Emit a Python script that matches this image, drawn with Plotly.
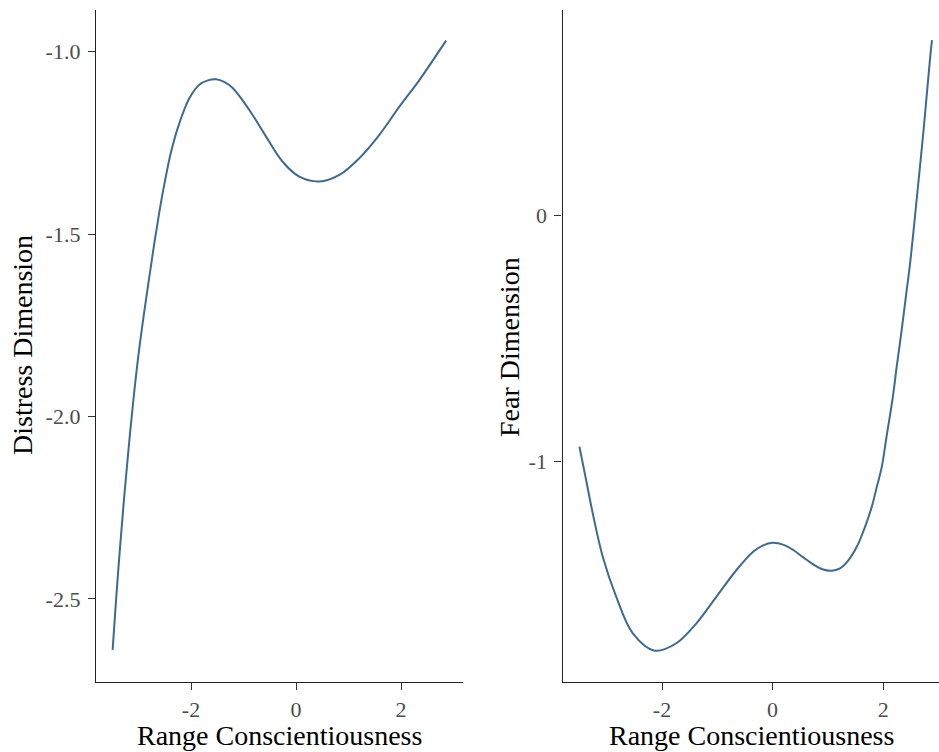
import plotly.graph_objects as go

# ---- data ----
distress_x = [-3.493, -3.428, -3.356, -3.278, -3.192, -3.098, -3.000, -2.890, -2.794, -2.699,
              -2.604, -2.509, -2.381, -2.222, -2.032, -1.842, -1.680, -1.524, -1.360, -1.207,
              -0.890, -0.571, -0.255, 0.063, 0.444, 0.825, 1.206, 1.587, 1.968, 2.349, 2.857]
distress_y = [-2.640, -2.503, -2.366, -2.229, -2.092, -1.955, -1.830, -1.712, -1.617, -1.525,
              -1.440, -1.364, -1.275, -1.196, -1.128, -1.091, -1.079, -1.076, -1.084, -1.100,
              -1.160, -1.233, -1.302, -1.343, -1.356, -1.338, -1.292, -1.228, -1.151, -1.078,
              -0.970]

fear_x = [-3.494, -3.373, -3.253, -3.072, -2.829, -2.528, -2.134, -1.741, -1.378, -1.015,
          -0.653, -0.352, -0.180, 0.000, 0.200, 0.374, 0.555, 0.736, 0.900, 1.070, 1.220,
          1.342, 1.523, 1.674, 1.795, 1.886, 1.976, 2.060, 2.170, 2.248, 2.335, 2.411,
          2.490, 2.611, 2.731, 2.840, 2.883]
fear_y = [-0.939, -1.074, -1.209, -1.385, -1.547, -1.696, -1.766, -1.736, -1.655, -1.547,
          -1.439, -1.365, -1.340, -1.329, -1.337, -1.358, -1.388, -1.416, -1.436, -1.442, -1.432,
          -1.408, -1.345, -1.263, -1.182, -1.101, -1.020, -0.900, -0.745, -0.610, -0.466, -0.331,
          -0.190, 0.074, 0.345, 0.615, 0.709]

x_ticks = [-2, 0, 2]
distress_ticks = [-1.0, -1.5, -2.0, -2.5]
fear_ticks = [0, -1]

x_title = "Range Conscientiousness"
left_y_title = "Distress Dimension"
right_y_title = "Fear Dimension"

LINE = "#3D6A92"
FONT = "Liberation Serif"
TICKCOL = "#4D4D4D"

W, H = 939, 752

fig = go.Figure()
fig.add_trace(go.Scatter(x=distress_x, y=distress_y, mode="lines",
                         line=dict(color=LINE, width=2, shape="spline", smoothing=1.0),
                         xaxis="x", yaxis="y", showlegend=False))
fig.add_trace(go.Scatter(x=fear_x, y=fear_y, mode="lines",
                         line=dict(color=LINE, width=2, shape="spline", smoothing=1.0),
                         xaxis="x2", yaxis="y2", showlegend=False))

ytop = 1 - 10 / H
ybot = 1 - 682 / H

axis_common = dict(showgrid=False, zeroline=False, showline=True, linecolor="#222222", linewidth=1.3,
                   ticks="outside", ticklen=7, tickcolor="#333333", tickwidth=1.2,
                   tickfont=dict(family=FONT, size=22, color=TICKCOL))

fig.update_layout(
    width=W, height=H,
    margin=dict(l=0, r=0, t=0, b=0),
    paper_bgcolor="white", plot_bgcolor="white",
    xaxis=dict(domain=[96 / W, 463 / W], range=[-3.81, 3.18], tickvals=x_ticks,
               ticktext=[str(v) for v in x_ticks], anchor="y", **axis_common),
    yaxis=dict(domain=[ybot, ytop], range=[-2.728, -0.886], tickvals=distress_ticks,
               ticktext=[f"{v:.1f}" for v in distress_ticks], anchor="x",
               ticklabelstandoff=3, **axis_common),
    xaxis2=dict(domain=[562.5 / W, 1.0], range=[-3.80, 3.01], tickvals=x_ticks,
                ticktext=[str(v) for v in x_ticks], anchor="y2", **axis_common),
    yaxis2=dict(domain=[ybot, ytop], range=[-1.893, 0.831], tickvals=fear_ticks,
                ticktext=[str(v) for v in fear_ticks], anchor="x2",
                ticklabelstandoff=3, **axis_common),
    annotations=[
        dict(text=x_title, x=279.5 / W, y=1 - 735 / H, xref="paper", yref="paper",
             showarrow=False, font=dict(family=FONT, size=28, color="black"),
             xanchor="center", yanchor="middle"),
        dict(text=x_title, x=751 / W, y=1 - 735 / H, xref="paper", yref="paper",
             showarrow=False, font=dict(family=FONT, size=28, color="black"),
             xanchor="center", yanchor="middle"),
        dict(text=left_y_title, x=23 / W, y=1 - 345 / H, xref="paper", yref="paper",
             showarrow=False, textangle=-90, font=dict(family=FONT, size=28, color="black"),
             xanchor="center", yanchor="middle"),
        dict(text=right_y_title, x=509 / W, y=1 - 347 / H, xref="paper", yref="paper",
             showarrow=False, textangle=-90, font=dict(family=FONT, size=28, color="black"),
             xanchor="center", yanchor="middle"),
    ],
)

fig.write_html("out.html")
